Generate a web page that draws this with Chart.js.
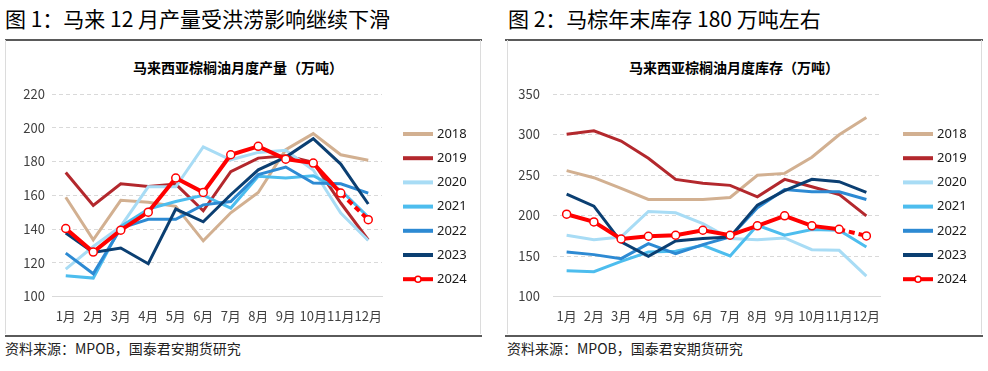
<!DOCTYPE html>
<html>
<head>
<meta charset="utf-8">
<script src="https://cdn.jsdelivr.net/npm/chart.js@4.4.1/dist/chart.umd.min.js"></script>
<style>
body { margin: 0; background: #fff; width: 988px; height: 371px; position: relative; overflow: hidden; font-family: "Noto Sans CJK SC", "Noto Sans", sans-serif; color: #000; }
.fig { position: absolute; top: 6px; font-size: 21px; line-height: 24px; white-space: nowrap; }
.rule { position: absolute; height: 2px; background: #5a5a5a; }
.box { position: absolute; top: 40px; height: 294px; border-left: 1px solid #dcdcdc; border-right: 1px solid #dcdcdc; }
.ctitle { position: absolute; top: 58px; width: 300px; text-align: center; font-size: 14px; line-height: 18px; font-weight: bold; white-space: nowrap; }
.src { position: absolute; top: 339px; font-size: 14px; line-height: 18px; white-space: nowrap; color: #222; }
canvas { position: absolute; }
</style>
</head>
<body>
<div class="fig" style="left:5px">图 1：马来 12 月产量受洪涝影响继续下滑</div>
<div class="fig" style="left:508px">图 2：马棕年末库存 180 万吨左右</div>
<div class="rule" style="left:5px;width:477px;top:39px"></div>
<div class="rule" style="left:505px;width:478px;top:39px"></div>
<div class="box" style="left:5px;width:474px"></div>
<div class="box" style="left:507px;width:473px"></div>
<div class="ctitle" style="left:88px">马来西亚棕榈油月度产量（万吨）</div>
<div class="ctitle" style="left:584px">马来西亚棕榈油月度库存（万吨）</div>
<canvas id="c1" width="475" height="293" style="left:5px;top:40px"></canvas>
<canvas id="c2" width="474" height="293" style="left:507px;top:40px"></canvas>
<div class="rule" style="left:5px;width:477px;top:335px"></div>
<div class="rule" style="left:505px;width:478px;top:335px"></div>
<div class="src" style="left:5px">资料来源：MPOB，国泰君安期货研究</div>
<div class="src" style="left:507px">资料来源：MPOB，国泰君安期货研究</div>

<script>
const months = ['1月', '2月', '3月', '4月', '5月', '6月', '7月', '8月', '9月', '10月', '11月', '12月'];
const years = ['2018', '2019', '2020', '2021', '2022', '2023', '2024'];
const colors = ['#D2B091', '#B3282D', '#A8DCF5', '#4DBDEE', '#2D8AD3', '#0B3F72', '#FF0000'];

// 产量（万吨）
const prod2018 = [158.8, 133.6, 157, 155.8, 153.4, 133, 149.6, 161.6, 187, 196.5, 184, 180.7];
const prod2019 = [173.5, 154, 166.8, 165.2, 166.6, 150.8, 174, 182, 183.4, 179.5, 155.4, 133.6];
const prod2020 = [116.2, 129.6, 141.5, 165, 165, 188.6, 181, 185.4, 186.6, 175, 149.4, 133.2];
const prod2021 = [112.3, 110.9, 141.5, 151.8, 156.3, 160, 152.4, 171.2, 170.2, 171.6, 163, 147];
const prod2022 = [125.7, 113.5, 140.5, 145.8, 145.8, 154.3, 156.3, 172.2, 176.7, 167.2, 166.8, 161.3];
const prod2023 = [137.6, 126.1, 128.7, 119.4, 151.8, 144.3, 160.3, 175.1, 182.6, 193.5, 178.5, 154.8];
const prod2024 = [140.3, 126.3, 139.3, 150, 170.2, 161.7, 184, 189, 181.4, 179.1, 161.3, 145.5];

// 库存（万吨）
const stock2018 = [255.4, 246.7, 233.5, 219.8, 219.8, 219.8, 222.3, 249.6, 252, 271.9, 299.6, 321];
const stock2019 = [300.4, 304.5, 292, 270.7, 244.6, 239.7, 237.2, 223.1, 244.6, 235.5, 226, 199.6];
const stock2020 = [175.6, 170.2, 173.5, 205, 203.3, 190, 171.5, 170.2, 172.3, 157.8, 157, 125.2];
const stock2021 = [131.8, 130.6, 143.4, 154.9, 155.8, 163.2, 150, 188, 175.6, 182.6, 181.8, 161.2];
const stock2022 = [155, 151.7, 146.7, 165.3, 152.9, 164.1, 173.5, 209.5, 232.2, 229.3, 229.3, 219.8];
const stock2023 = [226.4, 211.6, 167.4, 149.6, 168.6, 171.5, 173.5, 212.8, 230.6, 244.6, 241.7, 228.5];
const stock2024 = [201.6, 192.1, 171, 174.4, 175.6, 181.8, 175.6, 187.2, 199.6, 187.2, 183, 174.8];

const prodSeries = [prod2018, prod2019, prod2020, prod2021, prod2022, prod2023, prod2024];
const stockSeries = [stock2018, stock2019, stock2020, stock2021, stock2022, stock2023, stock2024];

const tickFont = { family: '"Noto Sans CJK SC", "Noto Sans", sans-serif', size: 13 };

// legend on the right, drawn inside the canvas
const sideLegend = {
    id: 'sideLegend',
    afterDraw(chart, args, opts) {
        const ctx = chart.ctx;
        ctx.save();
        ctx.font = '13px "Noto Sans", sans-serif';
        ctx.textBaseline = 'middle';
        chart.data.datasets.forEach((ds, i) => {
            const y = opts.y + i * 24.2;
            ctx.setLineDash([]);
            ctx.strokeStyle = ds.borderColor;
            ctx.lineWidth = 4;
            ctx.beginPath();
            ctx.moveTo(opts.x, y);
            ctx.lineTo(opts.x + 30, y);
            ctx.stroke();
            if (ds.pointRadius) {
                ctx.beginPath();
                ctx.arc(opts.x + 15, y, 3, 0, Math.PI * 2);
                ctx.fillStyle = '#fff';
                ctx.fill();
                ctx.lineWidth = 1.5;
                ctx.stroke();
            }
            ctx.fillStyle = '#1a1a1a';
            ctx.fillText(ds.label, opts.x + 34, y);
        });
        ctx.restore();
    }
};

function makeChart(id, series, yMin, yMax, step, axisW, labelPad, padRight, legendX) {
    const datasets = series.map((vals, i) => {
        const last = i === series.length - 1;
        return {
            label: years[i],
            data: vals,
            borderColor: colors[i],
            backgroundColor: colors[i],
            borderWidth: last ? 4 : 3,
            pointRadius: last ? 4 : 0,
            pointHoverRadius: last ? 4 : 0,
            pointBackgroundColor: '#fff',
            pointBorderColor: colors[i],
            pointBorderWidth: 1.5,
            tension: 0,
            order: series.length - 1 - i,
            segment: last ? { borderDash: (c) => c.p1DataIndex === 11 ? [6, 4] : undefined } : undefined
        };
    });

    return new Chart(document.getElementById(id), {
        type: 'line',
        data: { labels: months, datasets: datasets },
        options: {
            responsive: false,
            animation: false,
            layout: { padding: { left: 0, right: padRight, top: 54, bottom: 0.5 } },
            plugins: {
                legend: { display: false },
                tooltip: { enabled: false },
                sideLegend: { x: legendX, y: 94 }
            },
            scales: {
                x: {
                    offset: true,
                    grid: { display: false },
                    border: { display: true, color: '#d9d9d9', width: 1 },
                    ticks: { color: '#404040', font: tickFont, padding: 4, autoSkip: false, maxRotation: 0 },
                    afterFit: (scale) => { scale.height = 36; }
                },
                y: {
                    min: yMin,
                    max: yMax,
                    grid: {
                        drawTicks: false,
                        color: (c) => c.tick && c.tick.value === yMin ? 'rgba(0,0,0,0)' : '#d9d9d9'
                    },
                    border: { display: false, dash: [4, 3] },
                    ticks: { stepSize: step, color: '#404040', font: tickFont, padding: labelPad },
                    afterFit: (scale) => { scale.width = axisW; }
                }
            }
        },
        plugins: [sideLegend]
    });
}

makeChart('c1', prodSeries, 100, 220, 20, 47, 7, 98, 398);
makeChart('c2', stockSeries, 100, 350, 50, 46, 13, 101, 396);
</script>
</body>
</html>
